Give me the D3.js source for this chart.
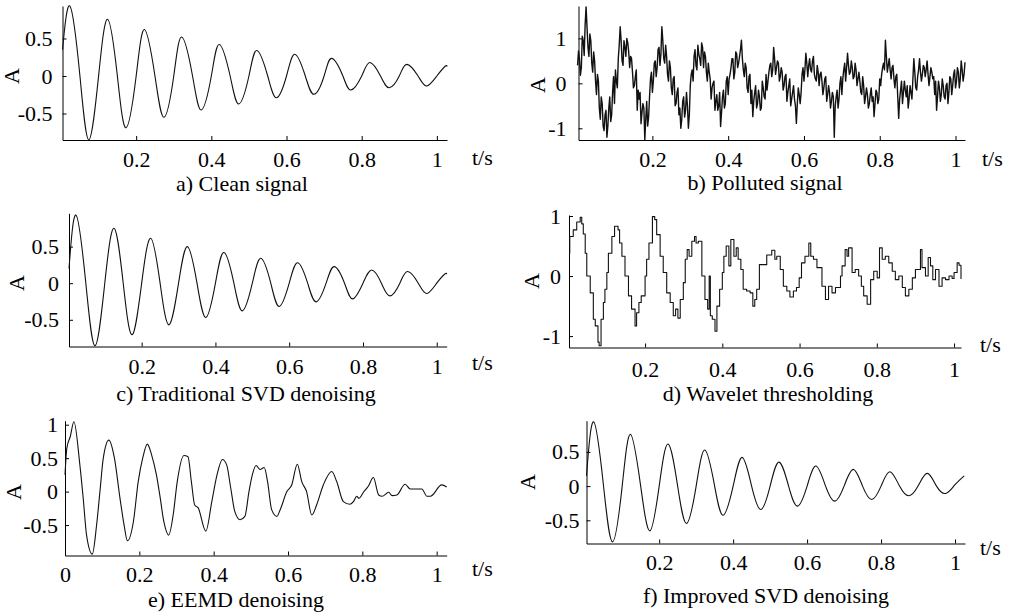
<!DOCTYPE html>
<html lang="en">
<head>
<meta charset="UTF-8">
<title>Signal denoising comparison</title>
<script src="https://cdn.jsdelivr.net/npm/d3@7"></script>
<style>
    body { margin: 0; background: #fff; }
    svg text { font-family: "Liberation Serif", "Times New Roman", serif; font-size: 22px; fill: #000; }
    .domain, .tick line { stroke: #000; stroke-width: 1; }
</style>
</head>
<body>
<script>
    // a) clean signal: peaks, troughs and zero crossings
    var cleanT = [0.004, 0.024, 0.05, 0.074, 0.1, 0.124, 0.15, 0.173, 0.2, 0.222, 0.25, 0.274, 0.3, 0.321, 0.35, 0.373, 0.4, 0.421, 0.45, 0.473, 0.5, 0.521, 0.55, 0.573, 0.6, 0.622, 0.65, 0.673, 0.7, 0.72, 0.75, 0.771, 0.8, 0.822, 0.85, 0.873, 0.9, 0.92, 0.95, 0.973, 1.0, 1.022, 1.027];
    var cleanA = [0.35, 0.93, 0.02, -0.85, 0, 0.756, 0, -0.69, 0, 0.62, 0, -0.55, 0, 0.52, 0, -0.453, 0, 0.42, 0, -0.373, 0, 0.34, 0, -0.29, 0, 0.29, 0, -0.244, 0, 0.235, 0, -0.187, 0, 0.18, 0, -0.156, 0, 0.155, 0, -0.133, 0, 0.13, 0.125];

    // b) polluted signal, one value every 2.5 ms from 0.0025 s
    var pollutedStep = 0.0025;
    var pollutedA = [
        0.40, 0.72, 0.55, 0.18, 0.35, 1.05, 0.95, 0.62, 1.30, 1.70, 1.25, 0.80, 0.60, 1.10, 0.95, 0.45, 0.25, 0.70, 0.50, 0.05,
        -0.25, 0.20, 0.05, -0.55, -0.80, -0.30, -0.45, -0.95, -1.05, -0.70, -0.60, -1.20, -0.95, -0.55, -0.30, -0.85, -0.70, -0.20, 0.15, -0.45,
        0.30, 0.05, -0.10, 0.55, 0.85, 1.26, 0.95, 0.50, 0.40, 0.95, 0.80, 0.60, 1.00, 0.90, 0.70, 0.35, 0.60, 0.55, 0.25, -0.10,
        -0.05, 0.15, 0.30, -0.60, -0.15, -0.35, -0.20, -0.90, -0.65, -0.45, -0.55, -1.26, -0.80, -0.40, -0.95, -0.75, -0.30, 0.10, 0.25, -0.20,
        0.05, 0.45, 0.50, 0.15, 0.35, 0.75, 0.80, 0.40, 0.65, 1.26, 0.95, 0.55, 0.45, 0.85, 0.60, 0.20, 0.05, 0.50, 0.35, -0.10,
        -0.25, 0.10, 0.15, -0.50, -0.45, -0.20, -0.10, -0.70, -0.55, -1.00, -0.80, -0.40, -0.30, -0.75, -0.60, -0.20, -0.50, -1.00, -0.70, -0.05,
        0.20, 0.30, 0.05, 0.60, 0.75, 0.40, 0.30, 0.85, 0.65, 0.55, 0.40, 0.90, 0.80, 0.35, 0.70, 0.60, 0.25, 0.05, 0.45, 0.25,
        0.10, -0.35, -0.10, 0.00, 0.05, -0.60, -0.40, -0.25, -0.60, -0.50, -0.20, -0.96, -0.65, -0.30, -0.15, -0.55, -0.45, 0.05, 0.15, -0.25,
        0.10, 0.20, 0.35, 0.55, 0.55, 0.10, 0.25, 0.70, 0.65, 0.35, 0.45, 0.60, 0.75, 0.96, 0.55, 0.30, 0.15, 0.45, 0.35, -0.10,
        -0.20, 0.15, 0.20, -0.45, -0.15, -0.74, -0.40, -0.20, -0.05, -0.55, -0.45, -0.15, -0.30, -0.60, -0.55, 0.05, -0.10, -0.30, -0.35, 0.20,
        -0.15, 0.05, 0.25, 0.40, 0.45, 0.15, 0.30, 0.80, 0.55, 0.20, 0.35, 0.50, 0.45, 0.05, 0.15, 0.35, 0.25, -0.15, -0.05, 0.15,
        0.20, -0.40, -0.20, -0.05, 0.10, -0.50, -0.35, -0.20, -0.05, -0.35, -0.50, -0.89, -0.45, -0.10, -0.25, -0.45, -0.20, 0.20, 0.35, 0.05,
        0.30, 0.67, 0.45, 0.15, 0.40, 0.55, 0.30, 0.25, 0.50, 0.60, 0.20, 0.10, 0.05, 0.40, 0.25, -0.05, 0.20, 0.25, 0.05, -0.25,
        -0.10, 0.10, 0.15, -0.40, -0.25, -0.05, -0.20, -0.55, -0.40, -0.20, -0.30, -1.20, -0.50, -0.30, -0.15, -0.55, -0.35, 0.00, 0.15, -0.25,
        0.10, 0.30, 0.45, 0.05, 0.35, 0.67, 0.40, 0.20, 0.25, 0.50, 0.35, 0.10, 0.15, 0.45, 0.30, -0.05, 0.10, 0.25, 0.05, -0.20,
        -0.25, 0.15, -0.05, -0.45, -0.30, -0.10, -0.25, -0.55, -0.45, -0.25, -0.10, -0.40, -0.30, -0.74, -0.45, -0.15, -0.20, -0.45, -0.35, 0.10,
        -0.05, 0.20, 0.35, 0.45, 0.30, 0.96, 0.60, 0.25, 0.40, 0.55, 0.30, 0.10, 0.35, 0.40, 0.10, -0.10, 0.15, 0.20, -0.30, -0.78,
        -0.35, -0.15, 0.05, -0.45, -0.20, 0.05, -0.15, -0.30, -0.05, -0.55, -0.35, -0.05, -0.20, -0.35, 0.10, 0.55, 0.25, -0.10, -0.15, 0.15,
        0.30, 0.55, 0.25, 0.05, 0.20, 0.40, 0.35, 0.15, 0.30, 0.50, 0.20, -0.05, 0.15, 0.35, 0.25, 0.10, 0.15, -0.25, 0.05, -0.60,
        -0.30, 0.05, -0.10, -0.40, -0.25, 0.10, -0.05, -0.30, -0.35, -0.05, 0.00, -0.45, -0.20, 0.15, 0.10, -0.25, -0.05, 0.20, 0.30, -0.10,
        0.05, 0.35, 0.25, -0.10, 0.10, 0.50, 0.30, 0.05, 0.20, 0.47
    ];
    var pollutedT = pollutedA.map(function(d, i) { return (i + 1) * pollutedStep; });

    // c) traditional SVD
    var svdT = [0.003, 0.022, 0.048, 0.0735, 0.1, 0.125, 0.15, 0.174, 0.2, 0.2245, 0.25, 0.274, 0.3, 0.324, 0.35, 0.374, 0.4, 0.423, 0.45, 0.473, 0.5, 0.523, 0.55, 0.573, 0.6, 0.623, 0.65, 0.673, 0.7, 0.722, 0.75, 0.772, 0.8, 0.824, 0.85, 0.873, 0.9, 0.921, 0.95, 0.973, 1.0, 1.022, 1.027];
    var svdA = [0.2, 0.93, 0.03, -0.855, 0, 0.75, 0, -0.705, 0, 0.614, 0, -0.569, 0, 0.50, 0, -0.469, 0, 0.42, 0, -0.378, 0, 0.34, 0, -0.318, 0, 0.28, 0, -0.255, 0, 0.227, 0, -0.214, 0, 0.18, 0, -0.173, 0, 0.159, 0, -0.141, 0, 0.125, 0.123];

    // d) wavelet thresholding
    var waveT = [0.003, 0.005, 0.014, 0.023, 0.032, 0.036, 0.04, 0.045, 0.049, 0.058, 0.066, 0.071, 0.078, 0.081, 0.086, 0.092, 0.096, 0.101, 0.105, 0.114, 0.121, 0.13, 0.134, 0.14, 0.148, 0.157, 0.165, 0.174, 0.178, 0.184, 0.19, 0.2, 0.204, 0.21, 0.219, 0.225, 0.23, 0.239, 0.247, 0.256, 0.265, 0.273, 0.279, 0.285, 0.291, 0.299, 0.304, 0.309, 0.314, 0.321, 0.328, 0.332, 0.338, 0.347, 0.355, 0.362, 0.366, 0.369, 0.374, 0.381, 0.386, 0.393, 0.4, 0.404, 0.41, 0.417, 0.422, 0.43, 0.436, 0.441, 0.448, 0.454, 0.463, 0.472, 0.479, 0.484, 0.489, 0.496, 0.507, 0.515, 0.528, 0.536, 0.541, 0.55, 0.558, 0.567, 0.575, 0.584, 0.592, 0.599, 0.605, 0.614, 0.624, 0.629, 0.636, 0.645, 0.658, 0.667, 0.675, 0.684, 0.693, 0.706, 0.71, 0.718, 0.723, 0.727, 0.736, 0.744, 0.753, 0.76, 0.766, 0.775, 0.784, 0.792, 0.801, 0.807, 0.814, 0.822, 0.831, 0.84, 0.848, 0.857, 0.866, 0.874, 0.883, 0.892, 0.9, 0.913, 0.917, 0.926, 0.933, 0.939, 0.945, 0.952, 0.961, 0.969, 0.978, 0.987, 0.995, 1.0, 1.008, 1.013, 1.018];
    var waveA = [0.38, 0.66, 0.77, 0.9, 0.98, 0.87, 0.7, 0.38, 0, -0.28, -0.72, -0.83, -1.1, -1.16, -0.72, -0.44, -0.22, 0.06, 0.38, 0.66, 0.83, 0.77, 0.55, 0.33, 0, -0.33, -0.55, -0.83, -0.61, -0.44, -0.33, 0, 0.28, 0.55, 0.99, 0.94, 0.69, 0.33, 0.06, -0.28, -0.44, -0.66, -0.55, -0.7, -0.39, -0.11, 0.28, 0.44, 0.33, 0.58, 0.66, 0.55, 0.58, 0, -0.39, -0.55, 0, -0.66, -0.72, -0.92, -0.5, -0.22, 0.06, 0.33, 0.5, 0.17, 0.61, 0.33, 0.47, 0.28, 0.11, -0.22, -0.25, -0.28, -0.5, -0.39, -0.22, 0.19, 0.19, 0.35, 0.43, 0.28, 0.33, 0.11, -0.17, -0.25, -0.35, -0.25, -0.19, -0.03, 0.22, 0.33, 0.55, 0.33, 0.28, 0.14, -0.17, -0.39, -0.17, -0.28, -0.19, 0, 0.17, 0.44, 0.33, 0.47, 0.06, 0.11, 0, -0.17, -0.33, -0.47, -0.06, 0.08, -0.03, 0.47, 0.28, 0.33, 0.22, 0.08, -0.06, 0, -0.19, -0.33, -0.22, -0.03, 0.11, 0.44, 0.14, 0, 0.31, 0.17, -0.06, 0.11, -0.17, -0.03, -0.06, 0, -0.04, 0.06, 0.22, 0.18, -0.05];

    // e) EEMD
    var eemdT = [0, 0.005, 0.014, 0.024, 0.04, 0.049, 0.058, 0.0735, 0.085, 0.094, 0.103, 0.118, 0.133, 0.148, 0.159, 0.168, 0.184, 0.197, 0.209, 0.2215, 0.233, 0.246, 0.255, 0.266, 0.279, 0.291, 0.302, 0.32, 0.331, 0.34, 0.349, 0.358, 0.379, 0.395, 0.409, 0.4235, 0.435, 0.446, 0.457, 0.471, 0.484, 0.495, 0.504, 0.514, 0.525, 0.536, 0.545, 0.556, 0.57, 0.579, 0.597, 0.61, 0.625, 0.637, 0.65, 0.664, 0.677, 0.695, 0.7177, 0.731, 0.749, 0.767, 0.776, 0.785, 0.791, 0.803, 0.816, 0.8297, 0.844, 0.853, 0.871, 0.88, 0.893, 0.915, 0.929, 0.96, 0.974, 0.983, 1.0136, 1.027];
    var eemdA = [0.25, 0.65, 0.82, 1.045, 0.40, -0.1, -0.65, -0.935, -0.5, 0, 0.5, 0.77, 0.5, -0.1, -0.5, -0.735, -0.45, 0.15, 0.5, 0.71, 0.55, 0.25, -0.05, -0.45, -0.65, -0.35, 0.15, 0.54, 0.52, 0.15, -0.2, -0.24, -0.59, -0.15, 0.25, 0.48, 0.40, 0.05, -0.3, -0.42, -0.37, 0, 0.25, 0.39, 0.33, 0.36, 0.15, -0.27, -0.37, -0.27, 0, 0.1, 0.41, 0.15, 0, -0.35, -0.2, 0.1, 0.30, 0.15, -0.15, -0.19, -0.15, -0.07, -0.1, -0.01, 0.08, 0.21, -0.05, -0.07, -0.01, -0.06, -0.05, 0.11, 0.04, 0.04, -0.07, -0.07, 0.1, 0.07];

    // f) improved SVD
    var impT = [0.0035, 0.023, 0.049, 0.074, 0.1, 0.1225, 0.15, 0.175, 0.2, 0.224, 0.25, 0.274, 0.3, 0.3236, 0.35, 0.373, 0.4, 0.4245, 0.45, 0.475, 0.5, 0.524, 0.55, 0.574, 0.6, 0.624, 0.65, 0.675, 0.7, 0.725, 0.75, 0.775, 0.8, 0.824, 0.85, 0.875, 0.9, 0.925, 0.95, 0.975, 1.0, 1.025];
    var impA = [0.15, 0.94, 0.03, -0.815, 0, 0.757, 0, -0.654, 0, 0.615, 0, -0.546, 0, 0.527, 0, -0.425, 0, 0.42, 0, -0.342, 0, 0.351, 0, -0.293, 0, 0.293, 0, -0.22, 0, 0.244, 0, -0.195, 0, 0.21, 0, -0.142, 0, 0.186, 0, -0.107, 0.02, 0.15];

    var xTicks = [0.2, 0.4, 0.6, 0.8, 1];
    var xTicksZero = [0, 0.2, 0.4, 0.6, 0.8, 1];
    var yTicksHalf = [-0.5, 0, 0.5];
    var yTicksHalfOne = [-0.5, 0, 0.5, 1];
    var yTicksOne = [-1, 0, 1];

    var captions = ["a) Clean signal", "b) Polluted signal", "c) Traditional SVD denoising",
                    "d) Wavelet thresholding", "e) EEMD denoising", "f) Improved SVD denoising"];

    // layout of each panel (pixel ranges, domains, label positions)
    var panels = [
        {t: cleanT, a: cleanA, curve: d3.curveNatural, xr: [62.5, 447], yr: [140, 6], xd: [0.004, 1.027], yd: [-0.853, 0.933],
            xt: xTicks, yt: yTicksHalf, xpad: 11, ypad: 10, ts: [472, 165], al: [19, 76], cap: [242, 191]},
        {t: pollutedT, a: pollutedA, curve: d3.curveLinear, xr: [578.5, 965], yr: [140, 6], xd: [0.005, 1.025], yd: [-1.26, 1.72],
            xt: xTicks, yt: yTicksOne, xpad: 11, ypad: 12, ts: [982, 166], al: [545, 85], cap: [765, 190], sw: 1.4},
        {t: svdT, a: svdA, curve: d3.curveNatural, xr: [69, 446.7], yr: [346.5, 213.3], xd: [0.003, 1.027], yd: [-0.865, 0.955],
            xt: xTicks, yt: yTicksHalf, xpad: 12, ypad: 10, ts: [472, 370], al: [24, 283], cap: [246, 401]},
        {t: waveT, a: waveA, curve: d3.curveStepAfter, xr: [569, 961], yr: [347.5, 215], xd: [0.003, 1.018], yd: [-1.19, 1.017],
            xt: xTicks, yt: yTicksOne, xpad: 14, ypad: 8, ts: [980, 352], al: [539, 281], cap: [768, 401]},
        {t: eemdT, a: eemdA, curve: d3.curveMonotoneX, xr: [65, 446.7], yr: [555.5, 420.7], xd: [0, 1.027], yd: [-0.955, 1.06],
            xt: xTicksZero, yt: yTicksHalfOne, xpad: 11, ypad: 7, ts: [472, 576], al: [21, 492], cap: [236, 607]},
        {t: impT, a: impA, curve: d3.curveNatural, xr: [586.5, 965], yr: [543.5, 420.7], xd: [0.0035, 1.027], yd: [-0.839, 0.956],
            xt: xTicks, yt: yTicksHalf, xpad: 11, ypad: 7, ts: [980, 555], al: [535, 482], cap: [766, 603]}
    ];

    var svg = d3.select("body").append("svg")
        .attr("width", 1016)
        .attr("height", 616);
    svg.append("rect").attr("width", 1016).attr("height", 616).attr("fill", "#fff");

    panels.forEach(function(p, i) {
        var x = d3.scaleLinear().domain(p.xd).range(p.xr);
        var y = d3.scaleLinear().domain(p.yd).range(p.yr);
        var g = svg.append("g");

        g.append("g")
            .attr("transform", "translate(0," + p.yr[0] + ")")
            .call(d3.axisBottom(x).tickValues(p.xt).tickSizeInner(-4).tickSizeOuter(0)
                .tickPadding(p.xpad).tickFormat(String));
        g.append("g")
            .attr("transform", "translate(" + p.xr[0] + ",0)")
            .call(d3.axisLeft(y).tickValues(p.yt).tickSizeInner(-4).tickSizeOuter(0)
                .tickPadding(p.ypad).tickFormat(String));

        var line = d3.line()
            .x(function(d) { return x(d[0]); })
            .y(function(d) { return y(d[1]); })
            .curve(p.curve);
        g.append("path")
            .datum(d3.zip(p.t, p.a))
            .attr("d", line)
            .attr("fill", "none")
            .attr("stroke", "#111")
            .attr("stroke-width", p.sw || 1.1)
            .attr("stroke-linejoin", "round");

        g.append("text")
            .attr("x", p.ts[0]).attr("y", p.ts[1])
            .text("t/s");
        g.append("text")
            .attr("transform", "translate(" + p.al[0] + "," + p.al[1] + ") rotate(-90)")
            .attr("text-anchor", "middle")
            .text("A");
        g.append("text")
            .attr("x", p.cap[0]).attr("y", p.cap[1])
            .attr("text-anchor", "middle")
            .text(captions[i]);
    });
</script>
</body>
</html>
